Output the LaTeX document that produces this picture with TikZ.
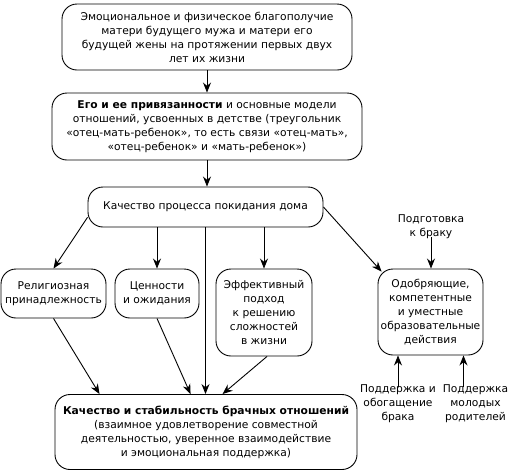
\documentclass[tikz,border=0pt]{standalone}
\usepackage{fontspec}
\setmainfont{DejaVu Sans}
\usetikzlibrary{arrows.meta}
\begin{document}
\begin{tikzpicture}[x=1pt,y=-1pt,
  box/.style={draw,line width=0.9pt,rounded corners=15pt,align=center,inner sep=0pt,
    font=\fontsize{10.7}{14}\selectfont},
  lbl/.style={align=center,inner sep=0pt,font=\fontsize{10.7}{14}\selectfont},
  arr/.style={line width=0.9pt,-{Stealth[length=10pt,width=8pt]}},
  ln/.style={line width=0.9pt}]
\useasboundingbox (0,0) rectangle (513,472);
\node[box,minimum width=290pt,minimum height=66pt] (b1) at (207,37)
  {Эмоциональное и физическое благополучие\\матери будущего мужа и матери его\\будущей жены на протяжении первых двух\\лет их жизни};
\node[box,minimum width=310pt,minimum height=67pt] (b2) at (207,126.5)
  {\textbf{Его и ее привязанности} и основные модели\\отношений, усвоенных в детстве (треугольник\\«отец-мать-ребенок», то есть связи «отец-мать»,\\«отец-ребенок» и «мать-ребенок»)};
\node[box,minimum width=235pt,minimum height=40pt] (b3) at (205.5,207)
  {Качество процесса покидания дома};
\node[box,minimum width=105pt,minimum height=49pt] (rel) at (53.5,293.5)
  {Религиозная\\принадлежность};
\node[box,minimum width=84pt,minimum height=49pt] (val) at (157,293.5)
  {Ценности\\и ожидания};
\node[box,minimum width=96pt,minimum height=87pt] (eff) at (264,312.5)
  {Эффективный\\подход\\к решению\\сложностей\\в жизни};
\node[box,minimum width=105pt,minimum height=86pt] (odo) at (430.5,312)
  {Одобряющие,\\компетентные\\и уместные\\образовательные\\действия};
\node[box,minimum width=302pt,minimum height=75pt] (bot) at (206,432)
  {\textbf{Качество и стабильность брачных отношений}\\(взаимное удовлетворение совместной\\деятельностью, уверенное взаимодействие\\и эмоциональная поддержка)};
\node[lbl] (podg) at (431,227) {Подготовка\\к браку};
\node[lbl] (pod1) at (398,403.5) {Поддержка и\\обогащение\\брака};
\node[lbl] (pod2) at (475.5,403.5) {Поддержка\\молодых\\родителей};
\draw[arr] (b1.south) -- (b1.south |- b2.north);
\draw[arr] (b2.south) -- (b2.south |- b3.north);
\draw[arr] (b3.185) -- (rel.north);
\draw[arr] (val.north |- b3.south) -- (val.north);
\draw[arr] (eff.north |- b3.south) -- (eff.north);
\draw[arr] (b3.east) -- ([shift={(4,3)}]odo.north west);
\draw[arr] (b3.south) -- (b3.south |- bot.north);
\draw[arr] (rel.south) -- ([xshift=45pt]bot.north west);
\draw[arr] (val.south) -- ([xshift=136pt]bot.north west);
\draw[arr] ([xshift=3pt]eff.south) -- ([xshift=168pt]bot.north west);
\draw[arr] ([yshift=2pt]podg.south) -- (podg.south |- odo.north);
\draw[arr] ([yshift=-3pt]pod1.north) -- (pod1.north |- odo.south);
\draw[arr] ([shift={(-12pt,-3pt)}]pod2.north) -- ([xshift=-12pt]pod2.north |- odo.south);
\end{tikzpicture}
\end{document}
